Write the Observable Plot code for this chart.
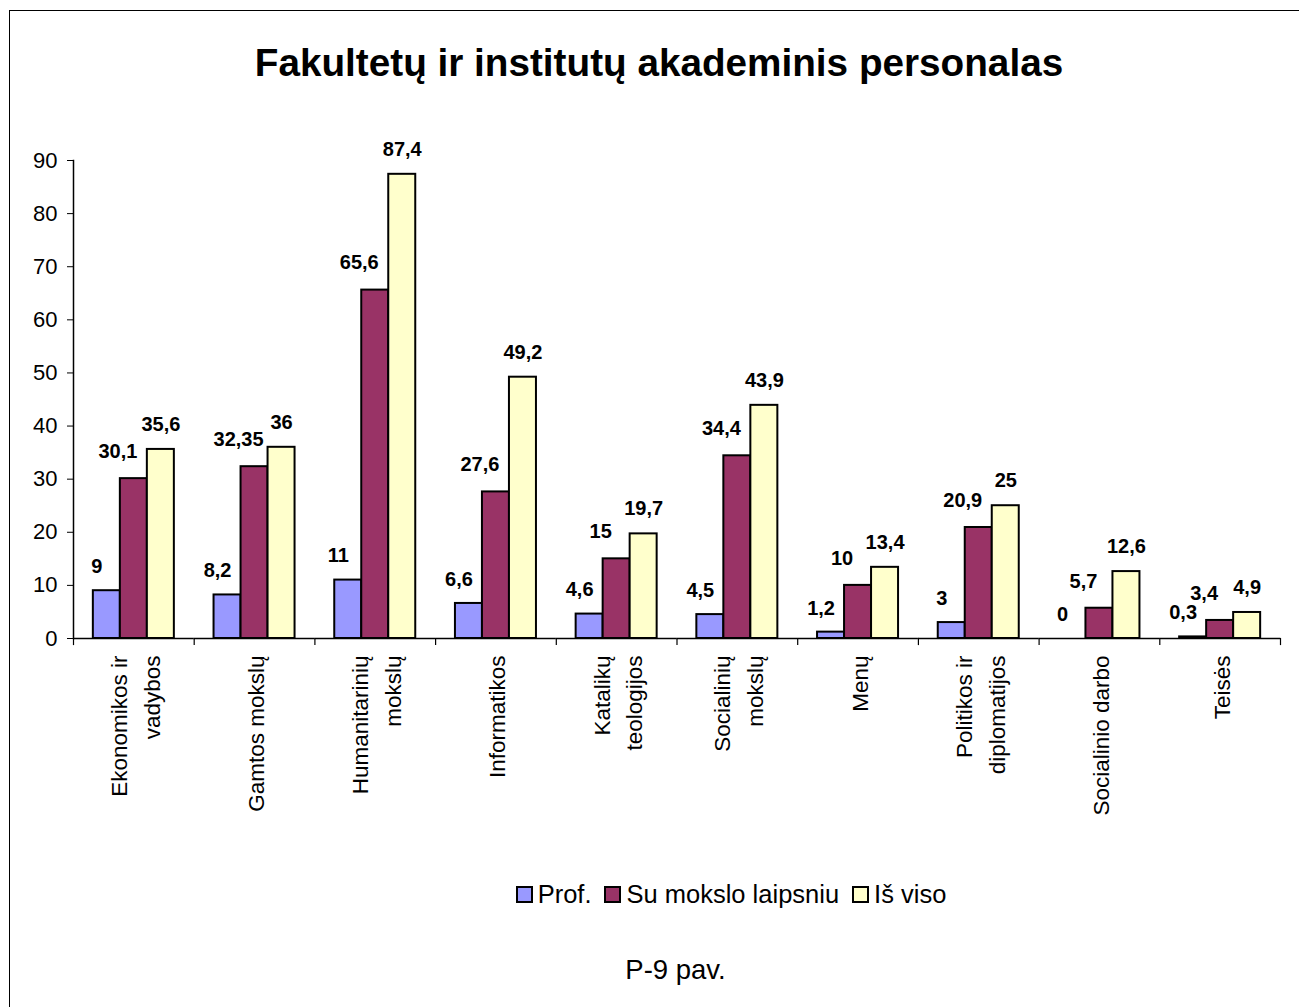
<!DOCTYPE html>
<html>
<head>
<meta charset="utf-8">
<script src="https://cdn.jsdelivr.net/npm/d3@7"></script>
<script src="https://cdn.jsdelivr.net/npm/@observablehq/plot@0.6"></script>
<style>
  html, body { margin: 0; padding: 0; background: #fff; }
  body { width: 1299px; height: 1007px; position: relative; overflow: hidden; font-family: Arial, "Liberation Sans", sans-serif; color: #000; }
  #border { position: absolute; left: 9px; top: 10px; width: 1400px; height: 1100px; border: 1px solid #000; box-sizing: border-box; }
  #chart { position: absolute; left: 0; top: 0; }
  #title { position: absolute; left: 9px; width: 1300px; top: 40px; text-align: center; font-weight: bold; font-size: 38.7px; line-height: 46px; }
  #legend { position: absolute; left: 0; width: 1299px; top: 878px; display: flex; justify-content: center; padding-left: 176px; box-sizing: border-box; font-size: 25.5px; line-height: 32px; }
  .item { display: flex; align-items: center; margin-right: 13px; }
  .sw { width: 13px; height: 13px; border: 2px solid #000; margin-right: 5px; }
  #caption { position: absolute; left: 0; width: 1351px; top: 953px; text-align: center; font-size: 27.5px; line-height: 34px; }
</style>
</head>
<body>
<div id="border"></div>
<div id="chart"></div>
<div id="title">Fakultetų ir institutų akademinis personalas</div>
<div id="legend"></div>
<div id="caption">P-9 pav.</div>
<script>
const categories = ["Ekonomikos ir\nvadybos", "Gamtos mokslų", "Humanitarinių\nmokslų", "Informatikos", "Katalikų\nteologijos", "Socialinių\nmokslų", "Menų", "Politikos ir\ndiplomatijos", "Socialinio darbo", "Teisės"];
const seriesNames = ["Prof.", "Su mokslo laipsniu", "Iš viso"];
const prof = [9, 8.2, 11, 6.6, 4.6, 4.5, 1.2, 3, 0, 0.3];
const suLaipsniu = [30.1, 32.35, 65.6, 27.6, 15, 34.4, 10, 20.9, 5.7, 3.4];
const isViso = [35.6, 36, 87.4, 49.2, 19.7, 43.9, 13.4, 25, 12.6, 4.9];
const colors = ["#9999FF", "#993366", "#FFFFCC"];
const yTicks = [0, 10, 20, 30, 40, 50, 60, 70, 80, 90];

const seriesValues = [prof, suLaipsniu, isViso];
const rows = [];
categories.forEach((c, i) => {
  seriesNames.forEach((s, j) => rows.push({category: c, series: s, value: seriesValues[j][i]}));
});
const fmt = v => String(v).replace(".", ",");
const font = 'Arial, "Liberation Sans", sans-serif';
const labelDx = [-10, -16, 0];
const labelDy = [-24, -27, -25];

const chart = Plot.plot({
  width: 1299,
  height: 860,
  marginTop: 160,
  marginBottom: 222,
  marginLeft: 73,
  marginRight: 19,
  style: {background: "none", fontFamily: font, color: "#000", overflow: "visible"},
  fx: {domain: categories, padding: 0, round: false, axis: null},
  x: {domain: seriesNames, paddingInner: 0, paddingOuter: 0.735, round: false, axis: null},
  y: {domain: [0, 90], axis: null},
  color: {domain: seriesNames, range: colors},
  marks: [
    Plot.barY(rows, {fx: "category", x: "series", y: "value", fill: "series", stroke: "#000", strokeWidth: 2}),
    Plot.ruleY([0], {stroke: "#000", strokeWidth: 1.5}),
    Plot.frame({anchor: "left", facetAnchor: "left", stroke: "#000", strokeWidth: 1.5}),
    Plot.frame({anchor: "left", insetTop: 478, insetBottom: -6, stroke: "#000", strokeWidth: 1.2}),
    Plot.frame({anchor: "right", facetAnchor: "right", insetTop: 478, insetBottom: -6, stroke: "#000", strokeWidth: 1.2}),
    Plot.axisY({ticks: yTicks, tickSize: 6, tickPadding: 10, fontSize: 22, label: null, tickFormat: d => String(d)}),
    ...seriesNames.map((s, j) => Plot.text(rows.filter(r => r.series === s), {
      fx: "category", x: "series", y: "value", text: d => fmt(d.value),
      dy: labelDy[j], dx: labelDx[j], fontSize: 20, fontWeight: "bold", fill: "#000"
    })),
    Plot.text(categories, {
      fx: d => d, text: d => d, frameAnchor: "bottom", rotate: -90,
      textAnchor: "end", lineAnchor: "middle", lineHeight: 1.45, dy: 17, dx: -1, fontSize: 22.5, fill: "#000"
    })
  ]
});
document.getElementById("chart").appendChild(chart);

const legend = document.getElementById("legend");
seriesNames.forEach((s, j) => {
  const item = document.createElement("div");
  item.className = "item";
  const sw = document.createElement("div");
  sw.className = "sw";
  sw.style.background = colors[j];
  const t = document.createElement("span");
  t.textContent = s;
  item.appendChild(sw);
  item.appendChild(t);
  legend.appendChild(item);
});
</script>
</body>
</html>
